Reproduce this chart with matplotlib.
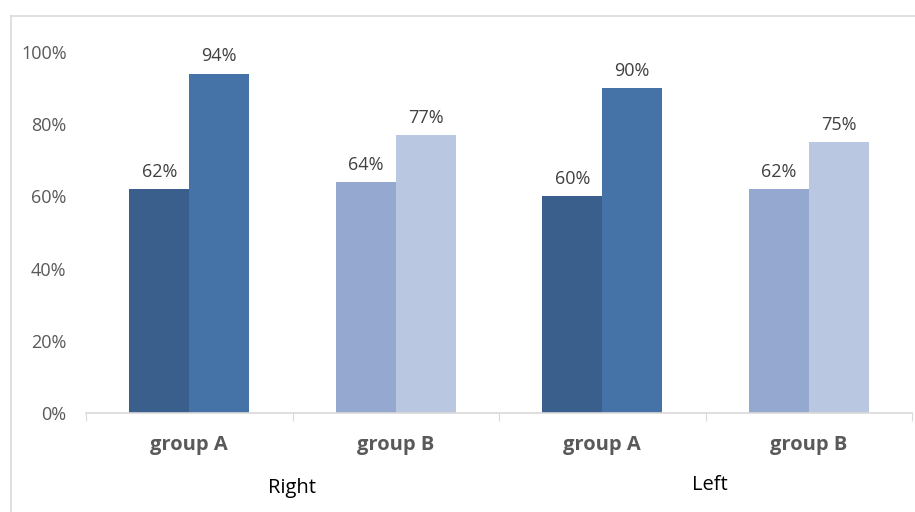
import matplotlib.pyplot as plt
from matplotlib.lines import Line2D
import numpy as np

# data
sides = ['Right', 'Left']
groups = ['group A', 'group B', 'group A', 'group B']
first_vals = [0.62, 0.64, 0.60, 0.62]
second_vals = [0.94, 0.77, 0.90, 0.75]
y_ticks = [0, 0.2, 0.4, 0.6, 0.8, 1.0]
y_tick_labels = ['0%', '20%', '40%', '60%', '80%', '100%']

first_colors = ['#3A5F8D', '#95A9D0', '#3A5F8D', '#95A9D0']
second_colors = ['#4573A7', '#BAC7E0', '#4573A7', '#BAC7E0']

W, H = 915, 512
plt.rcParams['font.family'] = ['Open Sans', 'DejaVu Sans']
fig = plt.figure(figsize=(W / 100, H / 100), dpi=100)
ax = fig.add_axes([86 / W, 1 - 413 / H, (912 - 86) / W, (413 - 52) / H])

# chart frame (cropped on the right and bottom)
frame_col = '#D9D9D9'
fig.add_artist(Line2D([11 / W, 1], [1 - 16 / H, 1 - 16 / H], color=frame_col, lw=1.2))
fig.add_artist(Line2D([11 / W, 11 / W], [0, 1 - 16 / H], color=frame_col, lw=1.2))

x = np.arange(len(groups))
bw = 0.29
b1 = ax.bar(x - bw / 2, first_vals, bw, color=first_colors)
b2 = ax.bar(x + bw / 2, second_vals, bw, color=second_colors)

for bars, vals in ((b1, first_vals), (b2, second_vals)):
    for b, v in zip(bars, vals):
        ax.annotate(f'{round(v * 100)}%', (b.get_x() + b.get_width() / 2, v),
                    xytext=(0, 6), textcoords='offset points', ha='center', va='bottom',
                    fontsize=13, color='#404040')

ax.set_xlim(-0.5, len(groups) - 0.5)
ax.set_ylim(0, 1)
ax.set_yticks(y_ticks)
ax.set_yticklabels(y_tick_labels, fontsize=13, color='#595959')
ax.tick_params(axis='y', length=0, pad=14)

# category boundaries as tick marks
ax.set_xticks(np.arange(-0.5, len(groups)), minor=False)
ax.set_xticklabels([])
ax.tick_params(axis='x', length=6, color=frame_col, direction='out')
for i, g in enumerate(groups):
    ax.text(i, -0.06, g, transform=ax.get_xaxis_transform(), ha='center', va='top',
            fontsize=14.5, fontweight='bold', color='#595959')

for s, xs, ys in zip(sides, [0.5, 2.52], [-0.18, -0.172]):
    ax.text(xs, ys, s, transform=ax.get_xaxis_transform(), ha='center', va='top',
            fontsize=14.5, color='#000000')

for sp in ['top', 'right', 'left']:
    ax.spines[sp].set_visible(False)
ax.spines['bottom'].set_color(frame_col)
ax.spines['bottom'].set_linewidth(1.2)

fig.savefig('out.png', dpi=100)
